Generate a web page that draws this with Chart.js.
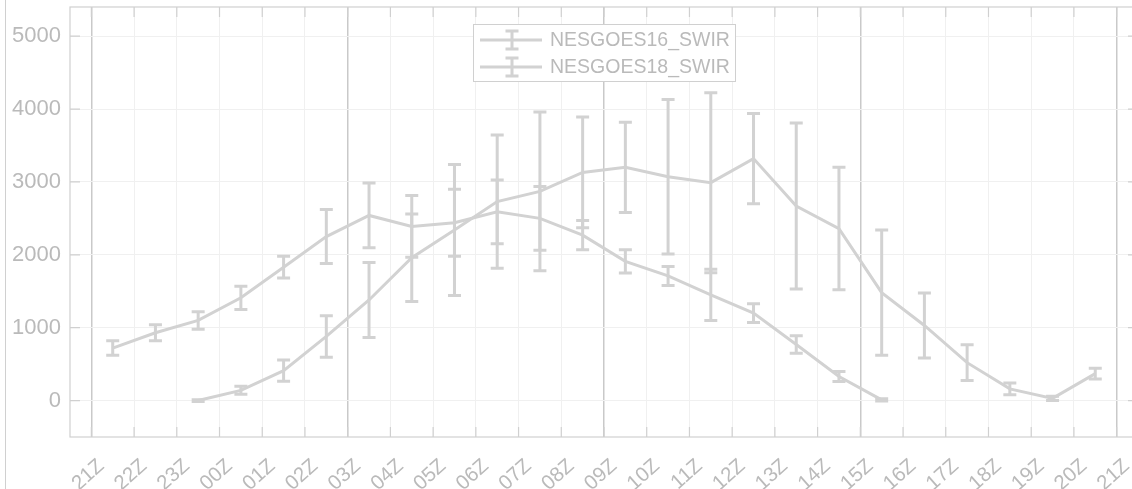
<!DOCTYPE html>
<html>
<head>
<meta charset="utf-8">
<script src="https://cdn.jsdelivr.net/npm/chart.js@4/dist/chart.umd.min.js"></script>
<style>
html, body { margin: 0; padding: 0; background: #fff; overflow: hidden; }
#wrap { position: relative; width: 1150px; height: 489px; }
#frame { position: absolute; left: 5px; top: 0; width: 1px; height: 489px; background: #d0d0d0; }
</style>
</head>
<body>
<div id="wrap">
  <canvas id="myChart" width="1150" height="489"></canvas>
  <div id="frame"></div>
</div>
<script>
// tick labels along the x axis (hours from 21Z to 21Z)
var hourLabels = ['21Z','22Z','23Z','00Z','01Z','02Z','03Z','04Z','05Z','06Z','07Z','08Z','09Z',
                  '10Z','11Z','12Z','13Z','14Z','15Z','16Z','17Z','18Z','19Z','20Z','21Z'];
var yTickValues = [0, 1000, 2000, 3000, 4000, 5000];

// NESGOES16_SWIR, half-hour bins
var goes16Hours = [0.5, 1.5, 2.5, 3.5, 4.5, 5.5, 6.5, 7.5, 8.5, 9.5, 10.5, 11.5, 12.5, 13.5, 14.5, 15.5, 16.5, 17.5, 18.5];
var goes16Mean  = [720, 930, 1100, 1410, 1830, 2250, 2540, 2390, 2440, 2590, 2500, 2270, 1910, 1710, 1450, 1200, 770, 330, 10];
var goes16Err   = [100, 110, 120, 160, 150, 370, 445, 425, 460, 437, 436, 200, 160, 130, 350, 130, 120, 70, 15];

// NESGOES18_SWIR
var goes18Hours = [2.5, 3.5, 4.5, 5.5, 6.5, 7.5, 8.5, 9.5, 10.5, 11.5, 12.5, 13.5, 14.5, 15.5, 16.5, 17.5, 18.5, 19.5, 20.5, 21.5, 22.5, 23.5];
var goes18Mean  = [0, 140, 410, 880, 1380, 1960, 2340, 2730, 2870, 3130, 3200, 3070, 2990, 3320, 2670, 2360, 1480, 1030, 520, 160, 30, 370];
var goes18Err   = [12, 55, 145, 285, 515, 600, 900, 915, 1090, 760, 620, 1060, 1235, 620, 1140, 840, 860, 445, 245, 80, 28, 75];

var lineColor = '#d2d2d2';
var textColor = '#bababa';
var boxColor = '#d0d0d0';
var fontFamily = '"Liberation Sans", Arial, sans-serif';

function toPoints(xs, ys) {
  var pts = [];
  for (var i = 0; i < xs.length; i++) {
    pts.push({x: xs[i], y: ys[i]});
  }
  return pts;
}

function noPadding(scale) {
  scale.paddingTop = 0;
  scale.paddingBottom = 0;
  scale.paddingLeft = 0;
  scale.paddingRight = 0;
}

// box, inward ticks and the error bars
var matlabLook = {
  id: 'matlabLook',
  beforeDatasetsDraw: function(chart) {
    var ctx = chart.ctx, a = chart.chartArea;
    var xs = chart.scales.x, ys = chart.scales.y;
    ctx.save();
    ctx.strokeStyle = boxColor;
    ctx.lineWidth = 1.2;
    ctx.strokeRect(a.left, a.top, a.right - a.left, a.bottom - a.top);
    ctx.beginPath();
    for (var i = 0; i < hourLabels.length; i++) {
      var px = xs.getPixelForValue(i);
      ctx.moveTo(px, a.bottom); ctx.lineTo(px, a.bottom - 10);
      ctx.moveTo(px, a.top); ctx.lineTo(px, a.top + 10);
    }
    for (var j = 0; j < yTickValues.length; j++) {
      var py = ys.getPixelForValue(yTickValues[j]);
      ctx.moveTo(a.left, py); ctx.lineTo(a.left + 10, py);
      ctx.moveTo(a.right, py); ctx.lineTo(a.right - 10, py);
    }
    ctx.stroke();
    ctx.restore();
  },
  afterDatasetsDraw: function(chart) {
    var ctx = chart.ctx;
    var ys = chart.scales.y;
    ctx.save();
    ctx.strokeStyle = lineColor;
    ctx.lineWidth = 3;
    chart.data.datasets.forEach(function(ds, k) {
      var meta = chart.getDatasetMeta(k);
      meta.data.forEach(function(pt, i) {
        var m = ds.data[i].y, e = ds.errors[i];
        var top = ys.getPixelForValue(m + e);
        var bot = ys.getPixelForValue(m - e);
        ctx.beginPath();
        ctx.moveTo(pt.x, top); ctx.lineTo(pt.x, bot);
        ctx.moveTo(pt.x - 6.5, top); ctx.lineTo(pt.x + 6.5, top);
        ctx.moveTo(pt.x - 6.5, bot); ctx.lineTo(pt.x + 6.5, bot);
        ctx.stroke();
      });
    });
    ctx.restore();
  },
  afterDraw: function(chart) {
    // legend box inside the axes
    var ctx = chart.ctx;
    ctx.save();
    ctx.fillStyle = '#fff';
    ctx.fillRect(473.5, 24.5, 262, 57);
    ctx.strokeStyle = boxColor;
    ctx.lineWidth = 1;
    ctx.strokeRect(473.5, 24.5, 262, 57);
    var rows = [40, 67];
    chart.data.datasets.forEach(function(ds, k) {
      var y = rows[k];
      ctx.strokeStyle = lineColor;
      ctx.lineWidth = 3;
      ctx.beginPath();
      ctx.moveTo(480, y); ctx.lineTo(542, y);
      ctx.moveTo(512, y - 9); ctx.lineTo(512, y + 9);
      ctx.moveTo(505.5, y - 9); ctx.lineTo(518.5, y - 9);
      ctx.moveTo(505.5, y + 9); ctx.lineTo(518.5, y + 9);
      ctx.stroke();
      ctx.fillStyle = textColor;
      ctx.font = '19.5px ' + fontFamily;
      ctx.textBaseline = 'middle';
      ctx.fillText(ds.label, 550, y + 1);
    });
    ctx.restore();
  }
};

var ctx = document.getElementById('myChart');
var myChart = new Chart(ctx, {
  type: 'line',
  data: {
    datasets: [{
      label: 'NESGOES16_SWIR',
      data: toPoints(goes16Hours, goes16Mean),
      errors: goes16Err,
      borderColor: lineColor,
      borderWidth: 3,
      pointRadius: 0,
      tension: 0,
      fill: false
    }, {
      label: 'NESGOES18_SWIR',
      data: toPoints(goes18Hours, goes18Mean),
      errors: goes18Err,
      borderColor: lineColor,
      borderWidth: 3,
      pointRadius: 0,
      tension: 0,
      fill: false
    }]
  },
  options: {
    responsive: false,
    animation: false,
    devicePixelRatio: 1,
    layout: { padding: { left: 0, right: 12, top: 7, bottom: 0 } },
    plugins: { legend: { display: false }, tooltip: { enabled: false } },
    scales: {
      x: {
        type: 'linear',
        min: -0.5,
        max: 24.5,
        afterBuildTicks: function(scale) {
          scale.ticks = hourLabels.map(function(l, i) { return {value: i}; });
        },
        afterFit: function(scale) { scale.height = 52; noPadding(scale); },
        ticks: {
          autoSkip: false,
          minRotation: 42,
          maxRotation: 42,
          padding: 17,
          labelOffset: 10,
          color: textColor,
          font: { family: fontFamily, size: 20.5 },
          callback: function(v) { return hourLabels[v]; }
        },
        grid: {
          drawTicks: false,
          color: function(c) { return (c.tick && c.tick.value % 6 === 0) ? '#c9c9c9' : '#f0f0f0'; },
          lineWidth: function(c) { return (c.tick && c.tick.value % 6 === 0) ? 1.5 : 1; }
        },
        border: { display: false }
      },
      y: {
        min: -500,
        max: 5400,
        afterBuildTicks: function(scale) {
          scale.ticks = yTickValues.map(function(v) { return {value: v}; });
        },
        afterFit: function(scale) { scale.width = 70; noPadding(scale); },
        ticks: {
          padding: 9,
          color: textColor,
          font: { family: fontFamily, size: 22 },
          callback: function(v) { return String(v); }
        },
        grid: { drawTicks: false, color: '#f0f0f0' },
        border: { display: false }
      }
    }
  },
  plugins: [matlabLook]
});
</script>
</body>
</html>
